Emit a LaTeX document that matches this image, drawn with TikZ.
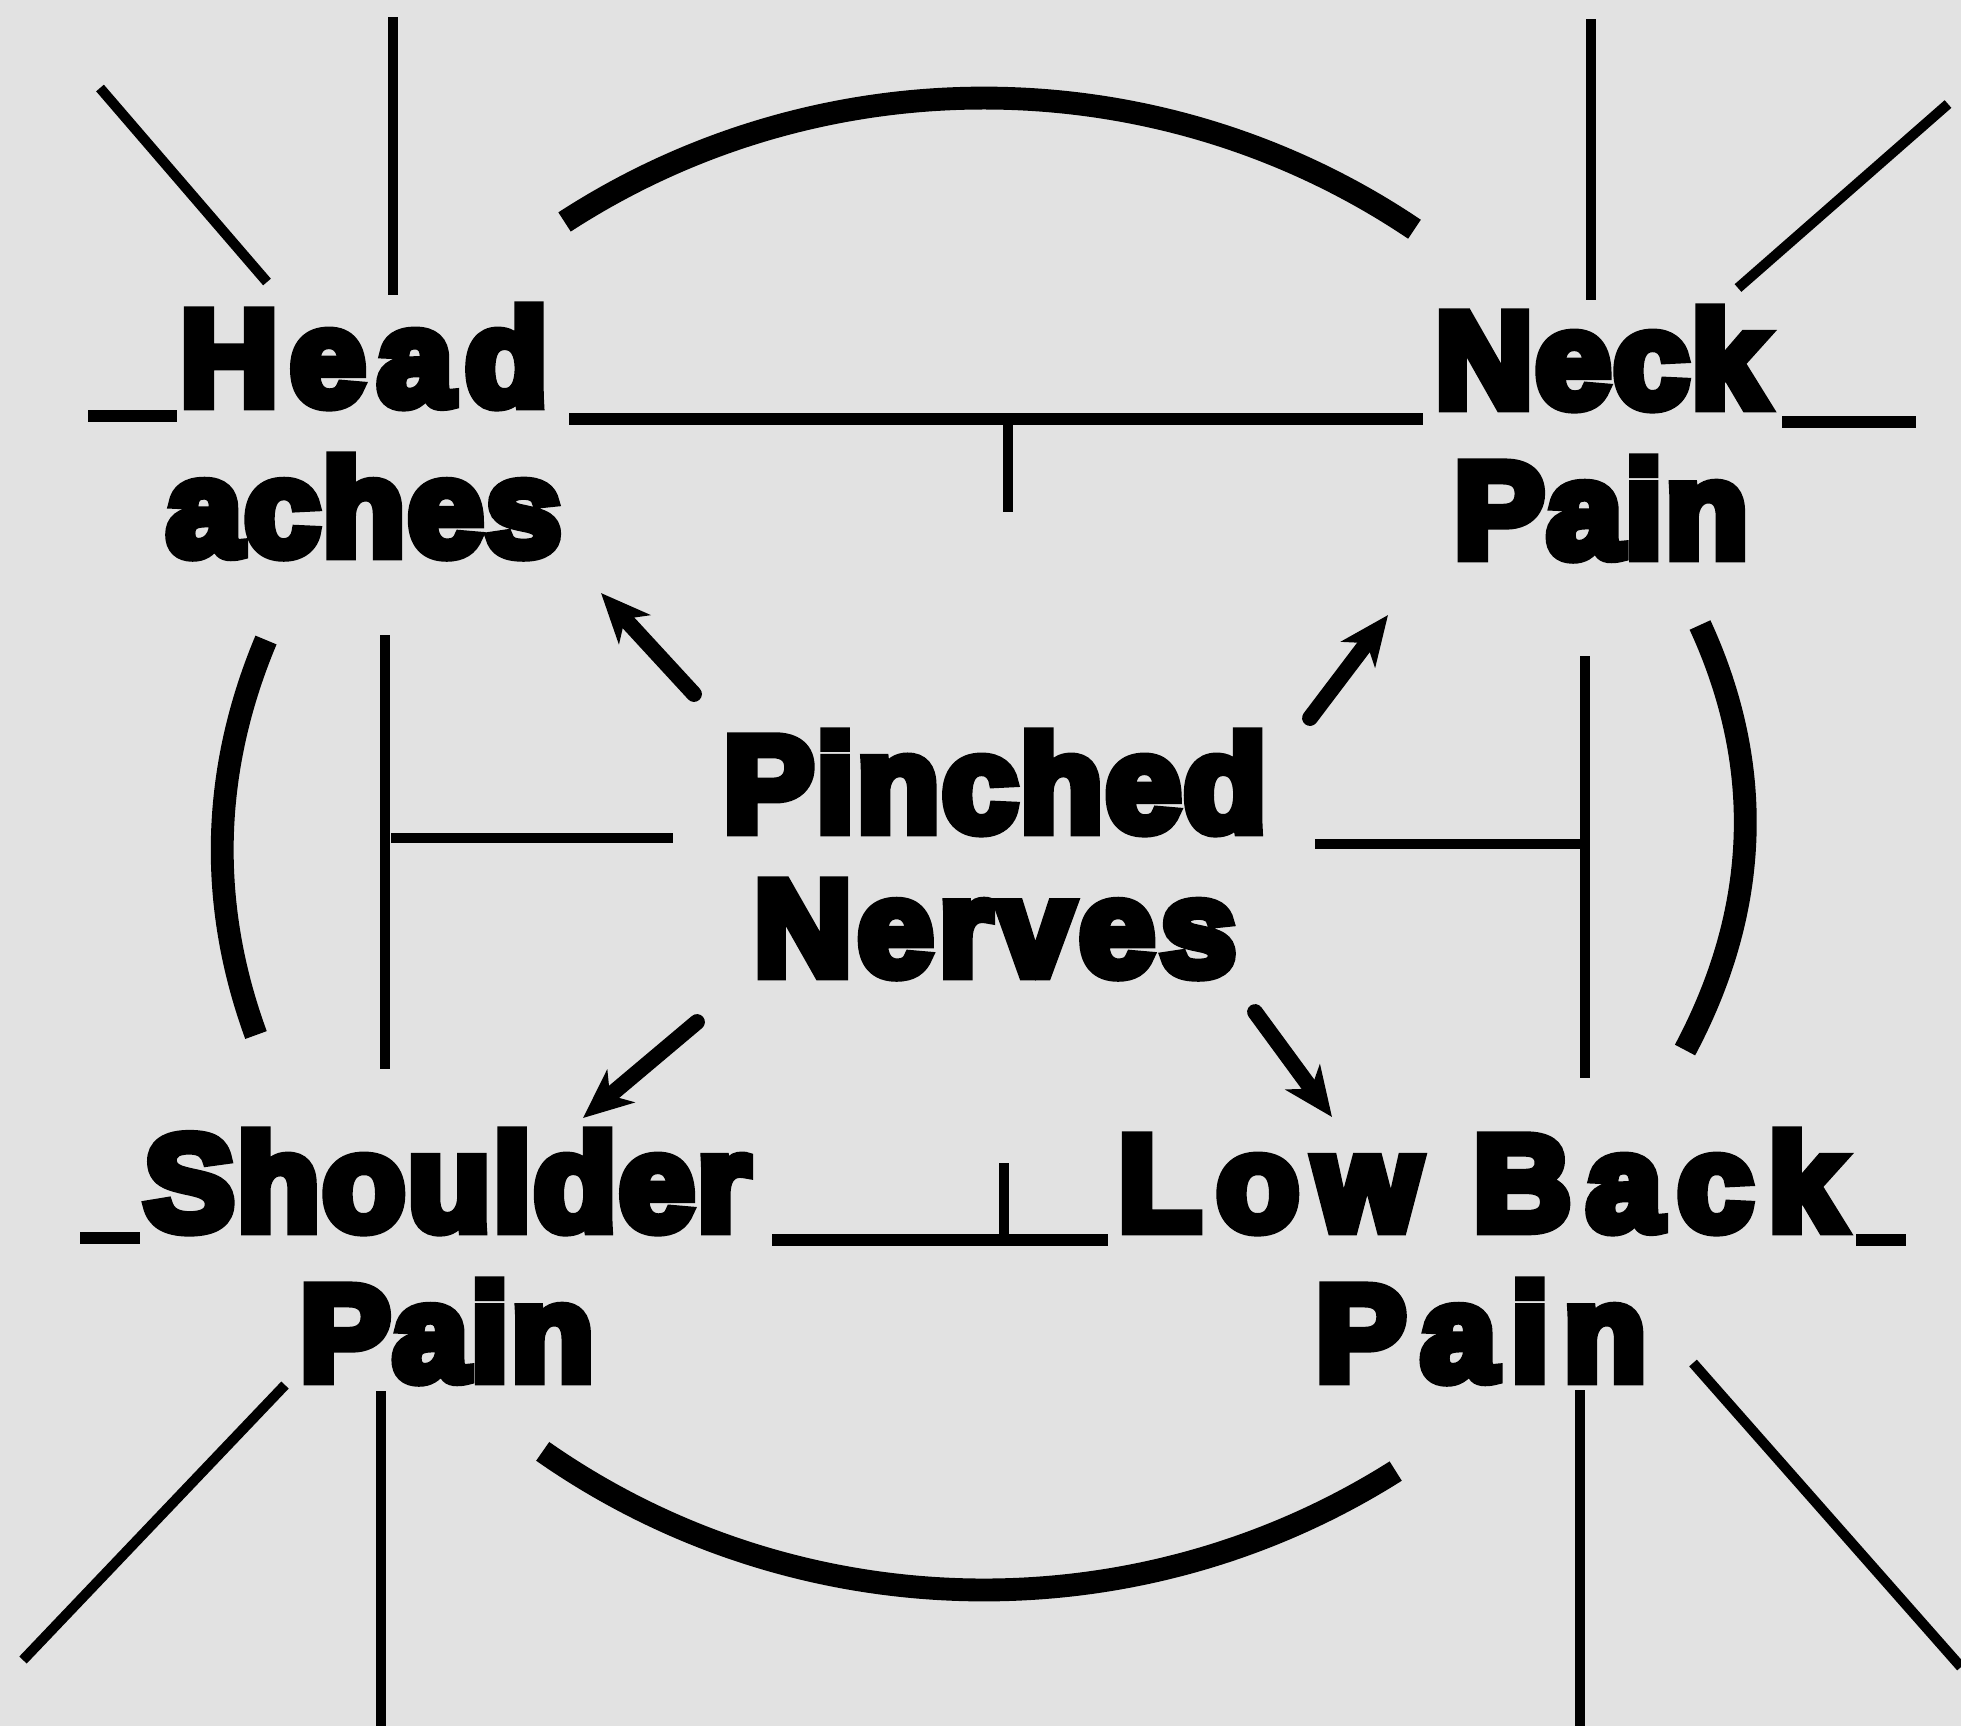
\documentclass[tikz,border=0pt]{standalone}
\usepackage{fontspec}
\usetikzlibrary{arrows.meta}
\newfontfamily\ailmentfont{Liberation Sans Bold}[FakeBold=8, LetterSpace=2]
\newcommand{\widerword}[2][10]{{\addfontfeature{LetterSpace=#1}#2}}
\definecolor{paper}{RGB}{226,226,226}

\begin{document}
\begin{tikzpicture}[
        x=0.01cm, y=-0.01cm, miter limit=4,
        ailment/.style={inner sep=0pt, align=center, anchor=base, font=\ailmentfont\fontsize{38.5}{42.7}\selectfont},
        stub/.style={line width=2.9pt},
        under/.style={line width=3.6pt},
        ring/.style={line width=6.5pt},
        pointer/.style={line width=4.5pt, line cap=round, -{Stealth[length=14pt, width=12pt, inset=4pt]}}
    ]
    \fill[paper] (0,0) rectangle (1961,1726);
    \clip (0,0) rectangle (1961,1726);

    % Labels (base = baseline of the second line)
    \node[ailment] (head) at (364,555) {\widerword[9]{Head}\\aches};
    \node[ailment] (neck) at (1601,557) {Neck\\Pain};
    \node[ailment] (nerves) at (995,975) {Pinched\\[-1.7pt]\widerword[4.5]{Nerves}};
    \node[ailment] (shoulder) at (447,1380) {Shoulder\\Pain};
    \node[ailment] (lowback) at (1481,1380) {\widerword[11.5]{Low Back}\\\widerword[11]{Pain}};

    % Underscores and ticks
    \draw[under] (88,416) -- (177,416);
    \draw[under] (569,419) -- (1423,419);
    \draw[stub] (1008,419) -- (1008,512);
    \draw[under] (1782,422) -- (1916,422);
    \draw[under] (80,1238) -- (140,1238);
    \draw[under] (772,1240) -- (1108,1240);
    \draw[stub] (1004,1163) -- (1004,1240);
    \draw[under] (1856,1240) -- (1906,1240);

    % Rays at the corners
    \draw[stub] (100,88) -- (267,282);
    \draw[stub] (393,17) -- (393,295);
    \draw[stub] (1591,19) -- (1591,300);
    \draw[stub] (1948,104) -- (1738,288);
    \draw[stub] (285,1385) -- (23,1660);
    \draw[stub] (381,1391) -- (381,1726);
    \draw[stub] (1580,1390) -- (1580,1726);
    \draw[stub] (1693,1363) -- (1961,1667);

    % Side brackets
    \draw[stub] (385,635) -- (385,1069);
    \draw[stub] (391,838) -- (673,838);
    \draw[stub] (1585,656) -- (1585,1078);
    \draw[stub] (1315,844) -- (1581,844);

    % Ring pieces
    \draw[ring] (984,844) ++(236.5:760 and 746) arc[start angle=236.5, end angle=304.5, x radius=760, y radius=746];
    \draw[ring] (1700,625) .. controls (1765,766) and (1760,909) .. (1685,1050);
    \draw[ring] (984,844) ++(57.2:760 and 746) arc[start angle=57.2, end angle=125.5, x radius=760, y radius=746];
    \draw[ring] (266,640) .. controls (211,771) and (208,904) .. (256,1035);

    % Arrows
    \draw[pointer] ([shift={(-301,-281)}]nerves.base) -- ([shift={(237,38)}]head.base);
    \draw[pointer] ([shift={(315,-257)}]nerves.base) -- ([shift={(-213,58)}]neck.base);
    \draw[pointer] ([shift={(-298,47)}]nerves.base) -- ([shift={(136,-262)}]shoulder.base);
    \draw[pointer] ([shift={(260,37)}]nerves.base) -- ([shift={(-149,-263)}]lowback.base);
\end{tikzpicture}
\end{document}
